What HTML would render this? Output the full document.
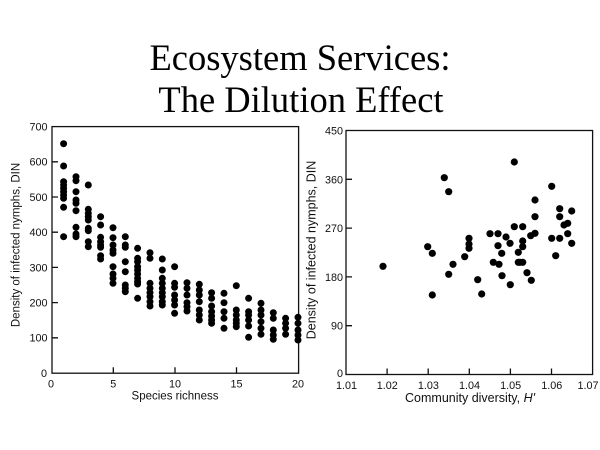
<!DOCTYPE html>
<html><head><meta charset="utf-8"><style>
html,body{margin:0;padding:0;background:#fff;}
svg{display:block;}
</style></head><body>
<svg width="600" height="450" viewBox="0 0 600 450" xmlns="http://www.w3.org/2000/svg">
<rect width="600" height="450" fill="#fff"/>
<g font-family="Liberation Serif, serif" font-size="36.5" fill="#000" text-anchor="middle">
<text x="300" y="70">Ecosystem Services:</text>
<text x="301" y="112">The Dilution Effect</text>
</g>
<g stroke="#111" fill="none" stroke-width="1.3">
<rect x="52" y="126.6" width="246.6" height="246.6"/>
<path d="M52 337.8h6M52 302.6h6M52 267.4h6M52 232.2h6M52 197h6M52 161.8h6M113.3 373.2v-6M175 373.2v-6M236.5 373.2v-6"/>
</g>
<g font-family="Liberation Sans, sans-serif" font-size="10.8" fill="#111">
<g text-anchor="end">
<text x="47.5" y="130.5">700</text>
<text x="47.5" y="165.7">600</text>
<text x="47.5" y="200.9">500</text>
<text x="47.5" y="236.1">400</text>
<text x="47.5" y="271.3">300</text>
<text x="47.5" y="306.5">200</text>
<text x="47.5" y="341.7">100</text>
<text x="47" y="377">0</text>
</g>
<g text-anchor="middle">
<text x="51" y="387.5">0</text>
<text x="113.3" y="387.5">5</text>
<text x="175" y="387.5">10</text>
<text x="236.5" y="387.5">15</text>
<text x="298" y="387.5">20</text>
</g>
</g>
<text x="175" y="399.5" font-family="Liberation Sans, sans-serif" font-size="11.5" fill="#111" text-anchor="middle">Species richness</text>
<text transform="translate(19.5,245) rotate(-90)" font-family="Liberation Sans, sans-serif" font-size="11.5" fill="#111" text-anchor="middle">Density of infected nymphs, DIN</text>
<g fill="#000">
<circle cx="63.6" cy="143.7" r="3.5"/><circle cx="63.6" cy="166" r="3.5"/><circle cx="63.6" cy="181.7" r="3.5"/><circle cx="63.6" cy="185" r="3.5"/><circle cx="63.6" cy="188.3" r="3.5"/><circle cx="63.6" cy="191.7" r="3.5"/><circle cx="63.6" cy="195" r="3.5"/><circle cx="63.6" cy="198.3" r="3.5"/><circle cx="63.6" cy="207.3" r="3.5"/><circle cx="63.6" cy="236.7" r="3.5"/>
<circle cx="76" cy="176.7" r="3.5"/><circle cx="76" cy="180.7" r="3.5"/><circle cx="76" cy="191.7" r="3.5"/><circle cx="76" cy="200" r="3.5"/><circle cx="76" cy="203.3" r="3.5"/><circle cx="76" cy="210.7" r="3.5"/><circle cx="76" cy="227.3" r="3.5"/><circle cx="76" cy="234" r="3.5"/><circle cx="76" cy="236.7" r="3.5"/>
<circle cx="88.3" cy="185" r="3.5"/><circle cx="88.3" cy="209.3" r="3.5"/><circle cx="88.3" cy="213.3" r="3.5"/><circle cx="88.3" cy="216.7" r="3.5"/><circle cx="88.3" cy="220" r="3.5"/><circle cx="88.3" cy="228.3" r="3.5"/><circle cx="88.3" cy="230.7" r="3.5"/><circle cx="88.3" cy="241.7" r="3.5"/><circle cx="88.3" cy="246.7" r="3.5"/>
<circle cx="100.6" cy="216.7" r="3.5"/><circle cx="100.6" cy="225" r="3.5"/><circle cx="100.6" cy="237.3" r="3.5"/><circle cx="100.6" cy="241.7" r="3.5"/><circle cx="100.6" cy="245" r="3.5"/><circle cx="100.6" cy="247.3" r="3.5"/><circle cx="100.6" cy="255.7" r="3.5"/><circle cx="100.6" cy="259" r="3.5"/>
<circle cx="113" cy="227.7" r="3.5"/><circle cx="113" cy="237.7" r="3.5"/><circle cx="113" cy="245" r="3.5"/><circle cx="113" cy="250" r="3.5"/><circle cx="113" cy="253.3" r="3.5"/><circle cx="113" cy="266.7" r="3.5"/><circle cx="113" cy="274" r="3.5"/><circle cx="113" cy="278.3" r="3.5"/><circle cx="113" cy="283.3" r="3.5"/>
<circle cx="125.3" cy="236.7" r="3.5"/><circle cx="125.3" cy="245" r="3.5"/><circle cx="125.3" cy="247.3" r="3.5"/><circle cx="125.3" cy="261.7" r="3.5"/><circle cx="125.3" cy="271.7" r="3.5"/><circle cx="125.3" cy="285" r="3.5"/><circle cx="125.3" cy="288.3" r="3.5"/><circle cx="125.3" cy="291.7" r="3.5"/>
<circle cx="137.6" cy="248.3" r="3.5"/><circle cx="137.6" cy="258.3" r="3.5"/><circle cx="137.6" cy="261.7" r="3.5"/><circle cx="137.6" cy="266.7" r="3.5"/><circle cx="137.6" cy="270" r="3.5"/><circle cx="137.6" cy="274" r="3.5"/><circle cx="137.6" cy="278.3" r="3.5"/><circle cx="137.6" cy="281.7" r="3.5"/><circle cx="137.6" cy="284" r="3.5"/><circle cx="137.6" cy="298.3" r="3.5"/>
<circle cx="150" cy="252.7" r="3.5"/><circle cx="150" cy="258.3" r="3.5"/><circle cx="150" cy="283.3" r="3.5"/><circle cx="150" cy="288.3" r="3.5"/><circle cx="150" cy="292.7" r="3.5"/><circle cx="150" cy="296.7" r="3.5"/><circle cx="150" cy="301.7" r="3.5"/><circle cx="150" cy="306" r="3.5"/>
<circle cx="162.3" cy="259" r="3.5"/><circle cx="162.3" cy="270" r="3.5"/><circle cx="162.3" cy="278.3" r="3.5"/><circle cx="162.3" cy="283.3" r="3.5"/><circle cx="162.3" cy="288.3" r="3.5"/><circle cx="162.3" cy="292.7" r="3.5"/><circle cx="162.3" cy="296.7" r="3.5"/><circle cx="162.3" cy="301.7" r="3.5"/><circle cx="162.3" cy="305" r="3.5"/>
<circle cx="174.6" cy="266.7" r="3.5"/><circle cx="174.6" cy="283.3" r="3.5"/><circle cx="174.6" cy="287.3" r="3.5"/><circle cx="174.6" cy="295" r="3.5"/><circle cx="174.6" cy="300" r="3.5"/><circle cx="174.6" cy="305" r="3.5"/><circle cx="174.6" cy="313.3" r="3.5"/>
<circle cx="187" cy="282.7" r="3.5"/><circle cx="187" cy="288.3" r="3.5"/><circle cx="187" cy="295" r="3.5"/><circle cx="187" cy="302.7" r="3.5"/><circle cx="187" cy="306.7" r="3.5"/><circle cx="187" cy="311" r="3.5"/>
<circle cx="199.3" cy="284.3" r="3.5"/><circle cx="199.3" cy="290" r="3.5"/><circle cx="199.3" cy="295" r="3.5"/><circle cx="199.3" cy="301.7" r="3.5"/><circle cx="199.3" cy="310" r="3.5"/><circle cx="199.3" cy="315" r="3.5"/><circle cx="199.3" cy="320" r="3.5"/>
<circle cx="211.6" cy="292.7" r="3.5"/><circle cx="211.6" cy="298.3" r="3.5"/><circle cx="211.6" cy="306" r="3.5"/><circle cx="211.6" cy="311.7" r="3.5"/><circle cx="211.6" cy="316" r="3.5"/><circle cx="211.6" cy="320" r="3.5"/><circle cx="211.6" cy="323.3" r="3.5"/>
<circle cx="224" cy="293.3" r="3.5"/><circle cx="224" cy="302.7" r="3.5"/><circle cx="224" cy="311.7" r="3.5"/><circle cx="224" cy="318.3" r="3.5"/><circle cx="224" cy="328.3" r="3.5"/>
<circle cx="236.3" cy="285.7" r="3.5"/><circle cx="236.3" cy="310" r="3.5"/><circle cx="236.3" cy="315" r="3.5"/><circle cx="236.3" cy="320" r="3.5"/><circle cx="236.3" cy="323.3" r="3.5"/><circle cx="236.3" cy="326.7" r="3.5"/>
<circle cx="248.6" cy="298.3" r="3.5"/><circle cx="248.6" cy="311.7" r="3.5"/><circle cx="248.6" cy="315" r="3.5"/><circle cx="248.6" cy="320" r="3.5"/><circle cx="248.6" cy="326" r="3.5"/><circle cx="248.6" cy="337.3" r="3.5"/>
<circle cx="261" cy="303.3" r="3.5"/><circle cx="261" cy="310" r="3.5"/><circle cx="261" cy="315" r="3.5"/><circle cx="261" cy="321.7" r="3.5"/><circle cx="261" cy="328.3" r="3.5"/><circle cx="261" cy="334.3" r="3.5"/>
<circle cx="273.3" cy="312.7" r="3.5"/><circle cx="273.3" cy="318.3" r="3.5"/><circle cx="273.3" cy="330" r="3.5"/><circle cx="273.3" cy="335" r="3.5"/><circle cx="273.3" cy="339.3" r="3.5"/>
<circle cx="285.6" cy="318.3" r="3.5"/><circle cx="285.6" cy="323.3" r="3.5"/><circle cx="285.6" cy="328.3" r="3.5"/><circle cx="285.6" cy="334.3" r="3.5"/>
<circle cx="298" cy="317.3" r="3.5"/><circle cx="298" cy="323.3" r="3.5"/><circle cx="298" cy="330" r="3.5"/><circle cx="298" cy="335" r="3.5"/><circle cx="298" cy="340" r="3.5"/>
</g>
<g stroke="#111" fill="none" stroke-width="1.3">
<rect x="346" y="130.5" width="246.6" height="244"/>
<path d="M346 325.7h6M346 276.9h6M346 228.1h6M346 179.3h6M387.1 374.5v-6M428.2 374.5v-6M469.3 374.5v-6M510.4 374.5v-6M551.5 374.5v-6"/>
</g>
<g font-family="Liberation Sans, sans-serif" font-size="10.8" fill="#111">
<g text-anchor="end">
<text x="343" y="134.5">450</text>
<text x="343" y="183.3">360</text>
<text x="343" y="232.1">270</text>
<text x="343" y="280.9">180</text>
<text x="343" y="329.7">90</text>
<text x="343" y="377">0</text>
</g>
<g text-anchor="middle">
<text x="346.5" y="389">1.01</text>
<text x="387.3" y="389">1.02</text>
<text x="428.4" y="389">1.03</text>
<text x="469.5" y="389">1.04</text>
<text x="510.6" y="389">1.05</text>
<text x="551.7" y="389">1.06</text>
</g>
<text x="598.5" y="389" text-anchor="end">1.07</text>
</g>
<text x="470" y="402" font-family="Liberation Sans, sans-serif" font-size="12.5" fill="#111" text-anchor="middle">Community diversity, <tspan font-style="italic">H'</tspan></text>
<text transform="translate(315.5,250) rotate(-90)" font-family="Liberation Sans, sans-serif" font-size="12.5" fill="#111" text-anchor="middle">Density of infected nymphs, DIN</text>
<g fill="#000">
<circle cx="383" cy="266.3" r="3.6"/><circle cx="427.7" cy="246.7" r="3.6"/><circle cx="432.3" cy="253.3" r="3.6"/><circle cx="432.3" cy="295" r="3.6"/><circle cx="444.3" cy="177.7" r="3.6"/><circle cx="448.7" cy="191.7" r="3.6"/><circle cx="448.7" cy="274.3" r="3.6"/><circle cx="453" cy="264.3" r="3.6"/><circle cx="464.7" cy="256.7" r="3.6"/><circle cx="469" cy="238.3" r="3.6"/><circle cx="469" cy="244" r="3.6"/><circle cx="469" cy="248.3" r="3.6"/><circle cx="477.7" cy="279.7" r="3.6"/><circle cx="481.7" cy="294" r="3.6"/><circle cx="490" cy="233.7" r="3.6"/><circle cx="493.3" cy="262.3" r="3.6"/><circle cx="498" cy="233.7" r="3.6"/><circle cx="498" cy="245.7" r="3.6"/><circle cx="499" cy="264.3" r="3.6"/><circle cx="501.7" cy="253.3" r="3.6"/><circle cx="502" cy="275.7" r="3.6"/><circle cx="506" cy="237" r="3.6"/><circle cx="510" cy="243.3" r="3.6"/><circle cx="510.3" cy="284.7" r="3.6"/><circle cx="514.3" cy="162" r="3.6"/><circle cx="514.3" cy="226.7" r="3.6"/><circle cx="518.3" cy="252.3" r="3.6"/><circle cx="518.3" cy="262.3" r="3.6"/><circle cx="520" cy="262.3" r="3.6"/><circle cx="522.7" cy="226.7" r="3.6"/><circle cx="522.7" cy="241" r="3.6"/><circle cx="522.7" cy="246.7" r="3.6"/><circle cx="522.7" cy="262.3" r="3.6"/><circle cx="527" cy="272.7" r="3.6"/><circle cx="530.7" cy="235.7" r="3.6"/><circle cx="531.3" cy="280.3" r="3.6"/><circle cx="535" cy="200" r="3.6"/><circle cx="535" cy="216.7" r="3.6"/><circle cx="535" cy="233.3" r="3.6"/><circle cx="551.7" cy="186.3" r="3.6"/><circle cx="551.7" cy="238.3" r="3.6"/><circle cx="555.7" cy="255.7" r="3.6"/><circle cx="559.7" cy="208.7" r="3.6"/><circle cx="559.7" cy="216.7" r="3.6"/><circle cx="559.7" cy="238.3" r="3.6"/><circle cx="564" cy="225" r="3.6"/><circle cx="567.7" cy="223.3" r="3.6"/><circle cx="567.7" cy="233.7" r="3.6"/><circle cx="571.7" cy="211" r="3.6"/><circle cx="571.7" cy="243.3" r="3.6"/>
</g>
</svg>
</body></html>
